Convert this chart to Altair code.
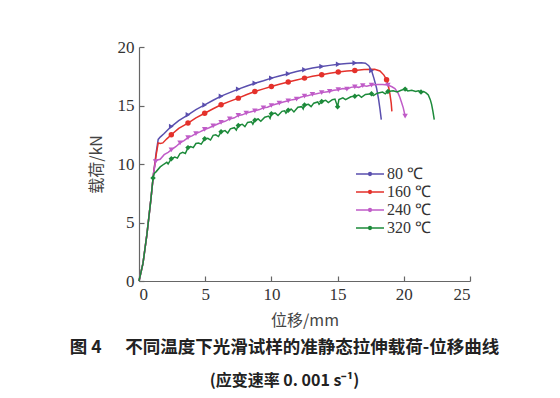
import altair as alt
import pandas as pd

names = ["80 ℃", "160 ℃", "240 ℃", "320 ℃"]
colors = ["#5a4fae", "#e4312b", "#c05cc8", "#1c8a3a"]
shapes = ["triangle-right", "circle", "triangle-down", "diamond"]

x80 = [0, 0.3, 0.6, 0.9, 1.1, 1.3, 1.45, 1.6, 1.9, 2.2, 2.44, 3.0, 3.7, 4.3, 4.96, 5.6, 6.2, 6.85, 7.5, 8.1, 8.75, 9.4, 10.0, 10.6, 11.27, 11.9, 12.5, 13.1, 13.8, 14.4, 15.05, 15.7, 16.3, 16.8, 17.1, 17.35, 17.56, 17.75, 17.94, 18.1, 18.2, 18.3]
y80 = [0, 1.5, 4.0, 7.0, 9.2, 11.0, 12.1, 12.3, 12.6, 12.95, 13.2, 13.7, 14.2, 14.65, 15.05, 15.45, 15.8, 16.1, 16.4, 16.65, 16.9, 17.12, 17.34, 17.52, 17.72, 17.9, 18.06, 18.2, 18.34, 18.43, 18.52, 18.6, 18.63, 18.65, 18.62, 18.4, 18.0, 17.3, 16.5, 15.5, 14.7, 13.8]
m80 = [2.44, 3.7, 4.96, 6.2, 7.5, 8.75, 10.0, 11.27, 12.5, 13.8, 15.05, 16.3, 17.56]

x160 = [0, 0.3, 0.6, 0.9, 1.1, 1.3, 1.45, 1.6, 1.8, 2.1, 2.44, 3.0, 3.7, 4.3, 4.96, 5.6, 6.2, 6.85, 7.5, 8.1, 8.75, 9.4, 10.0, 10.6, 11.27, 11.9, 12.5, 13.1, 13.8, 14.4, 15.05, 15.7, 16.3, 17.0, 17.8, 18.2, 18.5, 18.7, 18.85, 18.95, 19.05, 19.1]
y160 = [0, 1.5, 4.0, 7.0, 9.2, 10.8, 11.8, 11.75, 11.8, 12.15, 12.5, 13.05, 13.5, 13.95, 14.34, 14.72, 15.06, 15.35, 15.63, 15.92, 16.2, 16.42, 16.63, 16.82, 17.0, 17.18, 17.34, 17.5, 17.63, 17.75, 17.86, 17.94, 18.0, 18.08, 18.1, 17.95, 17.6, 17.2, 16.6, 16.0, 15.2, 14.5]
m160 = [2.44, 3.7, 4.96, 6.2, 7.5, 8.75, 10.0, 11.27, 12.5, 13.8, 15.05, 16.3, 18.7]

x240 = [0, 0.3, 0.6, 0.9, 1.1, 1.25, 1.4, 1.6, 1.9, 2.2, 2.44, 2.8, 3.1, 3.4, 3.7, 4.0, 4.3, 4.6, 4.96, 5.3, 5.6, 5.9, 6.2, 6.5, 6.85, 7.2, 7.5, 7.8, 8.1, 8.4, 8.75, 9.1, 9.4, 9.7, 10.0, 10.3, 10.6, 10.9, 11.27, 11.6, 11.9, 12.2, 12.5, 12.8, 13.1, 13.4, 13.8, 14.1, 14.4, 14.7, 15.05, 15.4, 15.7, 16.0, 16.3, 16.6, 16.9, 17.2, 17.56, 18.0, 18.4, 18.8, 19.1, 19.33, 19.55, 19.7, 19.85, 19.96, 20.1]
y240 = [0, 1.5, 4.0, 7.0, 9.2, 10.2, 10.35, 10.4, 10.8, 11.0, 11.2, 11.5, 11.8, 12.0, 12.25, 12.4, 12.6, 12.75, 12.95, 13.1, 13.25, 13.4, 13.55, 13.65, 13.85, 13.95, 14.15, 14.2, 14.35, 14.45, 14.55, 14.65, 14.8, 14.85, 15.0, 15.1, 15.2, 15.3, 15.4, 15.5, 15.55, 15.7, 15.8, 15.85, 15.95, 16.0, 16.1, 16.15, 16.2, 16.3, 16.35, 16.45, 16.4, 16.55, 16.6, 16.55, 16.7, 16.65, 16.75, 16.8, 16.8, 16.75, 16.6, 16.45, 16.1, 15.7, 15.2, 14.8, 14.1]
m240 = [1.25, 2.44, 3.1, 3.7, 4.3, 4.96, 5.6, 6.2, 6.85, 7.5, 8.1, 8.75, 9.4, 10.0, 10.6, 11.27, 11.9, 12.5, 13.1, 13.8, 14.4, 15.05, 15.7, 16.3, 16.9, 17.56, 18.8, 20.1]

x320 = [0, 0.3, 0.6, 0.9, 1.06, 1.15, 1.3, 1.6, 1.9, 2.1, 2.2, 2.44, 2.7, 2.9, 3.1, 3.3, 3.5, 3.7, 3.9, 4.1, 4.3, 4.5, 4.7, 4.96, 5.2, 5.4, 5.6, 5.8, 6.0, 6.2, 6.5, 6.7, 6.9, 7.2, 7.35, 7.5, 7.8, 8.0, 8.2, 8.5, 8.6, 8.75, 9.0, 9.2, 9.5, 9.8, 9.9, 10.0, 10.3, 10.5, 10.8, 11.0, 11.1, 11.27, 11.5, 11.7, 12.0, 12.3, 12.4, 12.5, 12.8, 13.0, 13.2, 13.5, 13.6, 13.8, 14.1, 14.3, 14.6, 14.8, 15.0, 15.1, 15.4, 15.6, 16.0, 16.3, 16.6, 16.8, 17.1, 17.56, 17.7, 18.0, 18.4, 18.6, 18.8, 19.2, 19.5, 19.8, 20.1, 20.3, 20.6, 20.9, 21.1, 21.3, 21.5, 21.7, 21.85, 22.0, 22.1, 22.2, 22.3]
y320 = [0, 1.5, 4.0, 7.0, 8.8, 9.2, 9.35, 9.75, 10.0, 10.15, 10.0, 10.45, 10.6, 10.5, 10.9, 11.0, 10.9, 11.4, 11.5, 11.4, 11.75, 11.8, 11.7, 12.15, 12.2, 12.05, 12.45, 12.5, 12.35, 12.75, 12.85, 12.65, 13.0, 13.1, 12.9, 13.3, 13.4, 13.2, 13.55, 13.6, 13.4, 13.75, 13.85, 13.65, 14.0, 14.1, 13.9, 14.3, 14.35, 14.15, 14.5, 14.55, 14.35, 14.6, 14.7, 14.45, 14.85, 14.9, 14.7, 15.05, 15.1, 14.9, 15.2, 15.3, 15.1, 15.35, 15.45, 15.25, 15.5, 15.55, 14.9, 15.5, 15.65, 15.5, 15.75, 15.8, 15.9, 15.7, 15.95, 16.0, 15.85, 16.05, 16.15, 16.0, 16.2, 16.25, 16.15, 16.3, 16.4, 16.25, 16.3, 16.2, 16.25, 16.15, 16.2, 16.05, 15.9, 15.5, 15.1, 14.5, 13.8]
m320 = [1.06, 2.44, 3.7, 4.96, 6.2, 7.5, 8.75, 10.0, 11.27, 12.5, 13.8, 15.0, 16.3, 17.56, 18.8, 20.1, 21.3]

series = [(x80, y80, m80), (x160, y160, m160), (x240, y240, m240), (x320, y320, m320)]
rows, mrows = [], []
for name, (xs, ys, ms) in zip(names, series):
    for i, (xv, yv) in enumerate(zip(xs, ys)):
        rows.append({"x": xv, "y": yv, "s": name, "i": i})
        if xv in ms:
            mrows.append({"x": xv, "y": yv, "s": name})
df = pd.DataFrame(rows)
mdf = pd.DataFrame(mrows)

serif = "Liberation Serif"
cjk = "Noto Sans CJK SC"

xenc = alt.X("x:Q", scale=alt.Scale(domain=[0, 25], nice=False),
             axis=alt.Axis(title="位移/mm", values=[0, 5, 10, 15, 20, 25], format="d"))
yenc = alt.Y("y:Q", scale=alt.Scale(domain=[0, 20], nice=False),
             axis=alt.Axis(title="载荷/kN", values=[0, 5, 10, 15, 20], format="d"))
cscale = alt.Scale(domain=names, range=colors)

legend_path = ("M-1.75,0H1.75"
               "M-0.18,0A0.18,0.18,0,1,1,0.18,0A0.18,0.18,0,1,1,-0.18,0Z"
               "M-0.07,0A0.07,0.07,0,1,1,0.07,0A0.07,0.07,0,1,1,-0.07,0Z")
leg = alt.Legend(
    title=None, orient="none", legendX=222, legendY=118, padding=0,
    symbolType=legend_path, symbolSize=256, symbolStrokeWidth=1.4,
    labelFont=serif, labelFontSize=16, labelColor="#333", labelOffset=8,
    rowPadding=1)

lines = alt.Chart(df).mark_line(strokeWidth=1.5).encode(
    x=xenc, y=yenc,
    color=alt.Color("s:N", scale=cscale, legend=leg),
    order="i:Q",
)

marker_layers = []
for name, col, shp in zip(names, colors, shapes):
    marker_layers.append(
        alt.Chart(mdf).transform_filter(alt.datum.s == name)
        .mark_point(filled=True, size=30, opacity=1, shape=shp, color=col)
        .encode(x=xenc, y=yenc)
    )

sp = "\u00a0"
chart = alt.layer(lines, *marker_layers).properties(
    width=331, height=234,
    autosize=alt.AutoSizeParams(type="none"),
    padding={"left": 131, "top": 39, "right": 82, "bottom": 111},
    title=alt.TitleParams(
        text="图" + sp + "4" + sp * 6 + "不同温度下光滑试样的准静态拉伸载荷-位移曲线",
        subtitle="(应变速率" + sp + "0." + sp + "001" + sp + "s⁻¹)",
        orient="bottom", anchor="middle", frame="group", dx=-20, offset=11,
        font=cjk, fontSize=17.5, fontWeight="bold", color="#222",
        subtitleFont=cjk, subtitleFontSize=16, subtitleFontWeight="bold",
        subtitleColor="#222", subtitlePadding=16,
    ),
).configure_view(stroke=None).configure_axis(
    domainColor="#666", domainWidth=1.2, ticks=False, grid=True,
    gridColor="#666", gridWidth=1.2,
    labelFont=serif, labelFontSize=17, labelColor="#333", labelPadding=5,
    titleFont=cjk, titleFontSize=16, titleFontWeight="normal", titleColor="#444",
).configure_axisY(titlePadding=13, gridDash=[5, 1000]).configure_axisX(
    titlePadding=10, gridDash=[0, 229, 5, 1000])

chart.save("out.html", embed_options={"renderer": "svg", "actions": False})
